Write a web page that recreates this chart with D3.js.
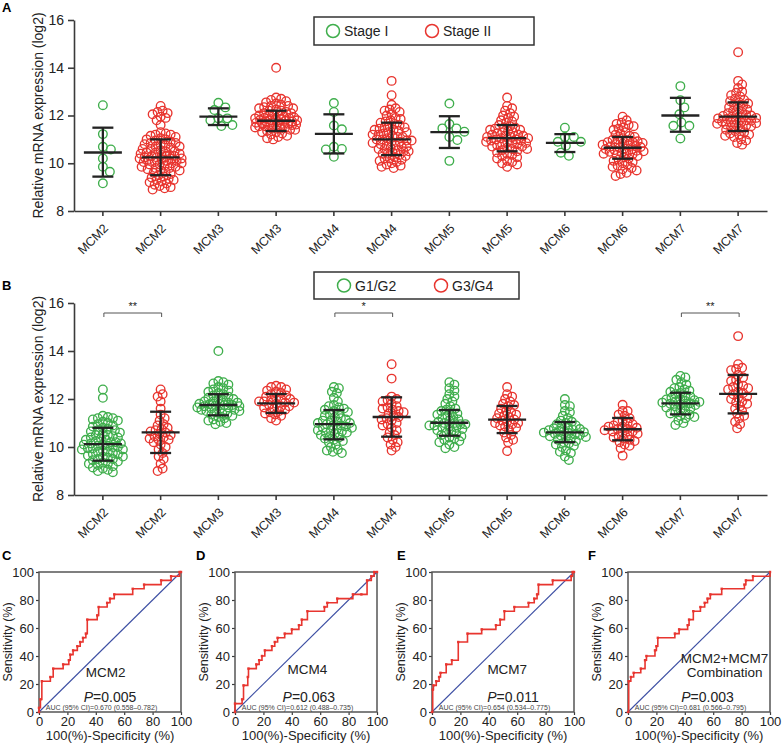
<!DOCTYPE html>
<html><head><meta charset="utf-8">
<script src="https://cdn.jsdelivr.net/npm/d3@7"></script>
<style>body{margin:0;background:#fff} svg{display:block;font-family:Arial,"Liberation Sans",sans-serif}</style>
</head><body><svg id="c" width="784" height="744"></svg>
<script>
// ---------- Panel A data (Stage I / Stage II) ----------
const catsA = ["MCM2","MCM2","MCM3","MCM3","MCM4","MCM4","MCM5","MCM5","MCM6","MCM6","MCM7","MCM7"];
const a_mcm2_s1 = [12.43,11.22,10.69,10.58,10.2,9.85,9.64,9.16];
const a_mcm2_s2 = [12.4,12.2,12.15,12.1,12.05,11.95,11.9,11.8,11.6,11.3,11.25,11.2,11.2,11.15,11.1,11.05,11.0,11.0,10.95,10.9,10.85,10.85,10.8,10.8,10.75,10.7,10.7,10.65,10.6,10.6,10.55,10.5,10.5,10.45,10.45,10.4,10.4,10.35,10.35,10.3,10.3,10.3,10.25,10.25,10.2,10.2,10.2,10.15,10.15,10.1,10.1,10.05,10.05,10.0,10.0,9.95,9.95,9.9,9.85,9.85,9.8,9.8,9.75,9.7,9.7,9.65,9.6,9.55,9.5,9.45,9.4,9.35,9.3,9.3,9.25,9.2,9.15,9.1,9.05,9.0,8.95,8.9];
const a_mcm3_s1 = [12.53,12.34,12.23,11.88,11.88,11.8,11.6,11.56];
const a_mcm3_s2 = [14.0,12.75,12.7,12.65,12.6,12.55,12.5,12.45,12.4,12.4,12.35,12.3,12.3,12.25,12.2,12.2,12.15,12.1,12.1,12.05,12.0,12.0,11.98,11.95,11.92,11.9,11.9,11.88,11.85,11.85,11.82,11.8,11.8,11.78,11.75,11.75,11.72,11.7,11.7,11.68,11.65,11.65,11.62,11.6,11.6,11.58,11.55,11.55,11.5,11.5,11.45,11.45,11.4,11.4,11.35,11.3,11.3,11.25,11.2,11.15,11.1,11.05,11.0];
const a_mcm4_s1 = [12.52,12.15,11.58,11.42,10.69,10.6,10.58,10.27];
const a_mcm4_s2 = [13.45,12.85,12.45,12.3,12.25,12.2,12.15,12.05,12.0,11.9,11.85,11.8,11.75,11.7,11.65,11.6,11.55,11.5,11.5,11.45,11.4,11.4,11.35,11.3,11.3,11.25,11.2,11.2,11.15,11.1,11.1,11.05,11.0,11.0,10.95,10.95,10.9,10.9,10.85,10.8,10.8,10.75,10.7,10.7,10.65,10.6,10.6,10.55,10.5,10.5,10.45,10.4,10.4,10.35,10.3,10.25,10.2,10.2,10.15,10.1,10.05,10.0,9.95,9.9,9.85,9.8];
const a_mcm5_s1 = [12.5,11.64,11.46,11.46,11.32,11.1,10.97,10.1];
const a_mcm5_s2 = [12.75,12.4,12.3,12.2,12.1,12.0,11.95,11.9,11.8,11.75,11.7,11.6,11.55,11.5,11.5,11.45,11.4,11.4,11.35,11.3,11.3,11.25,11.2,11.2,11.15,11.15,11.1,11.1,11.05,11.05,11.0,11.0,10.95,10.95,10.9,10.9,10.85,10.85,10.8,10.8,10.75,10.7,10.7,10.65,10.6,10.6,10.55,10.5,10.45,10.4,10.35,10.3,10.25,10.2,10.1,10.05,10.0,9.95,9.85];
const a_mcm6_s1 = [11.49,11.1,11.1,10.9,10.9,10.73,10.44,10.31];
const a_mcm6_s2 = [11.95,11.8,11.7,11.65,11.6,11.55,11.5,11.45,11.4,11.3,11.25,11.2,11.15,11.1,11.05,11.0,10.98,10.95,10.92,10.9,10.88,10.85,10.82,10.8,10.78,10.75,10.72,10.7,10.68,10.65,10.62,10.6,10.58,10.55,10.52,10.5,10.48,10.45,10.42,10.4,10.38,10.35,10.3,10.25,10.2,10.15,10.1,10.05,10.0,9.95,9.9,9.85,9.8,9.75,9.7,9.6,9.55,9.47];
const a_mcm7_s1 = [13.23,12.64,12.34,12.05,11.71,11.57,11.57,11.04];
const a_mcm7_s2 = [14.65,13.45,13.3,13.15,13.0,12.95,12.85,12.8,12.7,12.65,12.6,12.55,12.5,12.45,12.4,12.35,12.3,12.25,12.2,12.15,12.1,12.05,12.02,12.0,11.98,11.95,11.92,11.9,11.88,11.85,11.82,11.8,11.78,11.75,11.72,11.7,11.68,11.65,11.62,11.6,11.58,11.55,11.5,11.45,11.4,11.35,11.3,11.25,11.2,11.2,11.15,11.1,11.0,10.95,10.85,10.78];
const meanA = [10.45,10.25,11.95,11.78,11.23,11.0,11.3,11.05,10.85,10.65,12.0,11.95];
const loA   = [9.44,9.5,11.6,11.35,10.41,10.34,10.64,10.5,10.47,10.19,11.32,11.35];
const hiA   = [11.49,11.0,12.3,12.2,12.05,11.7,11.97,11.6,11.22,11.1,12.74,12.55];
const legendA = ["Stage I","Stage II"];

// ---------- Panel B data (G1/G2 / G3/G4) ----------
const catsB = ["MCM2","MCM2","MCM3","MCM3","MCM4","MCM4","MCM5","MCM5","MCM6","MCM6","MCM7","MCM7"];
const b_mcm2_g12 = [12.4,12.05,11.3,11.25,11.2,11.2,11.15,11.1,11.05,11.0,10.95,10.9,10.85,10.8,10.75,10.7,10.7,10.65,10.6,10.55,10.5,10.5,10.45,10.4,10.4,10.35,10.3,10.3,10.25,10.2,10.2,10.15,10.15,10.1,10.1,10.05,10.05,10.0,10.0,9.95,9.95,9.9,9.9,9.85,9.8,9.8,9.75,9.7,9.7,9.65,9.6,9.6,9.55,9.5,9.5,9.45,9.4,9.35,9.3,9.3,9.25,9.2,9.15,9.1,9.05,9.0,8.95];
const b_mcm2_g34 = [12.4,12.2,12.1,11.9,11.6,11.35,11.2,11.1,10.95,10.9,10.8,10.75,10.7,10.65,10.6,10.55,10.5,10.45,10.4,10.35,10.3,10.3,10.2,10.1,10.0,9.9,9.75,9.6,9.5,9.3,9.1,9.0];
const b_mcm3_g12 = [14.0,12.75,12.7,12.65,12.6,12.5,12.45,12.4,12.35,12.3,12.25,12.2,12.15,12.1,12.05,12.0,12.0,11.95,11.9,11.9,11.85,11.85,11.8,11.8,11.78,11.75,11.75,11.72,11.7,11.7,11.65,11.65,11.6,11.6,11.55,11.55,11.5,11.5,11.45,11.4,11.4,11.35,11.3,11.25,11.2,11.15,11.1,11.05,11.0,10.95];
const b_mcm3_g34 = [12.55,12.5,12.5,12.4,12.35,12.3,12.25,12.2,12.15,12.1,12.05,12.0,12.0,11.95,11.9,11.9,11.85,11.85,11.8,11.75,11.7,11.7,11.65,11.6,11.55,11.5,11.45,11.4,11.35,11.3,11.2,11.1];
const b_mcm4_g12 = [12.5,12.45,12.3,12.25,12.05,11.9,11.75,11.7,11.65,11.6,11.55,11.5,11.45,11.4,11.35,11.3,11.25,11.2,11.15,11.1,11.1,11.05,11.0,11.0,10.95,10.9,10.9,10.85,10.8,10.8,10.75,10.7,10.7,10.65,10.6,10.6,10.55,10.5,10.45,10.4,10.35,10.3,10.25,10.2,10.1,10.0,9.9,9.85,9.8,9.75];
const b_mcm4_g34 = [13.45,12.85,12.1,12.0,11.95,11.9,11.8,11.7,11.65,11.6,11.55,11.5,11.45,11.4,11.3,11.25,11.2,11.15,11.1,11.0,10.95,10.9,10.8,10.7,10.6,10.5,10.4,10.3,10.2,10.1,10.0,9.85];
const b_mcm5_g12 = [12.7,12.6,12.45,12.35,12.2,12.1,12.0,11.9,11.8,11.7,11.6,11.55,11.5,11.45,11.4,11.35,11.3,11.25,11.2,11.15,11.1,11.05,11.0,11.0,10.95,10.95,10.9,10.9,10.85,10.8,10.8,10.75,10.7,10.65,10.6,10.55,10.5,10.45,10.4,10.35,10.3,10.25,10.2,10.1,10.0,9.95];
const b_mcm5_g34 = [12.5,12.2,12.1,12.0,11.9,11.8,11.75,11.7,11.6,11.5,11.45,11.4,11.35,11.3,11.25,11.2,11.15,11.1,11.05,11.0,11.0,10.95,10.9,10.85,10.8,10.7,10.6,10.5,10.4,10.3,10.2,9.83];
const b_mcm6_g12 = [12.0,11.75,11.7,11.5,11.45,11.3,11.2,11.1,11.05,11.0,10.95,10.9,10.85,10.8,10.78,10.75,10.72,10.7,10.68,10.65,10.62,10.6,10.58,10.55,10.52,10.5,10.48,10.45,10.42,10.4,10.35,10.3,10.25,10.2,10.15,10.1,10.05,10.0,9.85,9.8,9.75,9.6,9.46];
const b_mcm6_g34 = [11.76,11.5,11.5,11.35,11.3,11.2,11.1,11.05,11.0,10.95,10.9,10.85,10.85,10.8,10.75,10.75,10.7,10.65,10.65,10.6,10.55,10.5,10.45,10.4,10.35,10.3,10.25,10.2,10.1,10.05,9.95,9.64];
const b_mcm7_g12 = [12.96,12.9,12.8,12.7,12.6,12.5,12.45,12.4,12.35,12.3,12.25,12.2,12.15,12.1,12.05,12.0,11.98,11.95,11.92,11.9,11.88,11.85,11.82,11.8,11.78,11.75,11.72,11.7,11.65,11.6,11.55,11.5,11.45,11.4,11.35,11.3,11.25,11.2,11.1,11.0,10.92];
const b_mcm7_g34 = [14.62,13.45,13.3,13.25,13.2,13.0,12.9,12.8,12.75,12.6,12.55,12.5,12.45,12.4,12.3,12.25,12.2,12.1,12.05,12.0,11.9,11.85,11.8,11.7,11.6,11.5,11.4,11.3,11.2,11.05,10.95,10.78];
const meanB = [10.12,10.61,11.75,11.82,10.95,11.25,11.01,11.14,10.61,10.74,11.82,12.21];
const loB   = [9.43,9.75,11.32,11.42,10.32,10.43,10.47,10.58,10.2,10.28,11.36,11.4];
const hiB   = [10.8,11.47,12.2,12.21,11.54,12.07,11.54,11.71,11.04,11.21,12.26,13.0];
const legendB = ["G1/G2","G3/G4"];
const sigPairsB = [0,4,10];          // left index of each bracket
const sigLabelsB = ["**","*","**"];

// ---------- ROC data (corners: 100-specificity %, sensitivity %) ----------
const rocC_x = [0,0,1,2,8,10,17,21,22,24,27,29,31,33,34,41,42,48,50,53,66,74,86,93,99,100];
const rocC_y = [0,3,9,22,25,31,34,37,41,44,47,50,53,56,66,69,75,78,81,84,88,91,94,97,100,100];
const rocD_x = [0,0,5,6,9,9.5,15,17,19,21,26,28,30,35,40,45,47,51,63,65,72,83,89,93,96,98,100];
const rocD_y = [0,6,9,19,25,31,34,37,40,44,47,50,53,56,59,62,66,72,75,78,81,84,84,94,97,100,100];
const rocE_x = [0,0.5,1,3,5,6,10,14,18.5,25,35,45,48,51,58,68,72,74,75,85,98,99,100];
const rocE_y = [0,16,19,22,25,28,34,37,50,56,59,62,66,72,75,78,81,84,91,94,97,100,100];
const rocF_x = [0,0.5,2,4,9,12,13,19,20,21,33,36,42,43,46,51,54,56,58,66,82,83,88,100];
const rocF_y = [0,22,25,28,31,37,40,44,47,53,56,59,62,66,72,75,78,81,84,88,91,94,97,100];

const GREEN = "#3fae4c", RED = "#e8352f", DARK = "#232323", AXIS = "#3a3a3a", BLUE = "#3d4fa3";
const svg = d3.select("#c");

function swarm(ys, r, maxW, minD) {
  const order = d3.range(ys.length).sort((a, b) => ys[a] - ys[b]);
  const placed = [], xs = new Array(ys.length);
  for (const i of order) {
    let best = 0, bestScore = -Infinity, done = false;
    for (let k = 0; k <= maxW && !done; k += 1) {
      for (const s of (k === 0 ? [0] : [k, -k])) {
        let md = Infinity;
        for (const p of placed) { const d = Math.hypot(p.x - s, p.y - ys[i]); if (d < md) md = d; }
        if (md >= minD) { best = s; done = true; break; }
        if (md > bestScore) { bestScore = md; best = s; }
      }
    }
    xs[i] = best; placed.push({ x: best, y: ys[i] });
  }
  return xs;
}

function scatterPanel(o) {
  const g = svg.append("g");
  const x = d3.scaleBand().domain(d3.range(o.cats.length)).range([74, 767]);
  const cx = i => x(i) + x.bandwidth() / 2;
  const y = d3.scaleLinear().domain([8, 16]).range([o.yBottom, o.yTop]);

  const ya = g.append("g").attr("transform", "translate(74,0)")
    .call(d3.axisLeft(y).tickValues([8, 10, 12, 14, 16]).tickSize(6).tickPadding(4).tickSizeOuter(0));
  ya.selectAll("text").attr("font-size", 14).attr("fill", "#222");
  const xa = g.append("g").attr("transform", `translate(0,${o.yBottom})`)
    .call(d3.axisBottom(x).tickSize(5).tickSizeOuter(0).tickFormat(i => o.cats[i]));
  xa.selectAll(".tick").attr("transform", d => `translate(${cx(d)},0)`);
  xa.selectAll("text").attr("font-size", 12.5).attr("fill", "#222").attr("text-anchor", "end")
    .attr("y", 0).attr("dy", "0.35em").attr("transform", "translate(3,15) rotate(-45)");
  [ya, xa].forEach(a => { a.selectAll("path,line").attr("stroke", AXIS).attr("stroke-width", 1.6); });

  g.append("text").attr("transform", `translate(43,${(o.yTop + o.yBottom) / 2}) rotate(-90)`)
    .attr("text-anchor", "middle").attr("font-size", 14).attr("fill", "#222")
    .text("Relative mRNA expression (log2)");
  g.append("text").attr("x", 2).attr("y", o.letterY).attr("font-size", 13).attr("font-weight", "bold").text(o.letter);

  o.groups.forEach((vals, i) => {
    const ys = vals.map(v => y(v));
    const dense = vals.length > 20;
    const xs = swarm(ys, 4.2, 21, dense ? 5.0 : 8.2);
    g.append("g").selectAll("circle").data(vals).join("circle")
      .attr("cx", (d, j) => cx(i) + xs[j]).attr("cy", d => y(d)).attr("r", 4.3)
      .attr("fill", "none").attr("stroke", i % 2 === 0 ? GREEN : RED).attr("stroke-width", 1.35);
  });
  const eb = g.append("g").attr("stroke", DARK).attr("stroke-width", 2.3);
  o.cats.forEach((c, i) => {
    eb.append("line").attr("x1", cx(i) - 19).attr("x2", cx(i) + 19).attr("y1", y(o.mean[i])).attr("y2", y(o.mean[i]));
    eb.append("line").attr("x1", cx(i)).attr("x2", cx(i)).attr("y1", y(o.lo[i])).attr("y2", y(o.hi[i]));
    eb.append("line").attr("x1", cx(i) - 10.5).attr("x2", cx(i) + 10.5).attr("y1", y(o.lo[i])).attr("y2", y(o.lo[i]));
    eb.append("line").attr("x1", cx(i) - 10.5).attr("x2", cx(i) + 10.5).attr("y1", y(o.hi[i])).attr("y2", y(o.hi[i]));
  });

  const L = o.legend;
  g.append("rect").attr("x", L.x).attr("y", L.y).attr("width", L.w).attr("height", L.h)
    .attr("fill", "#fff").attr("stroke", "#333").attr("stroke-width", 1.5);
  [[GREEN, L.c1, o.legendText[0]], [RED, L.c2, o.legendText[1]]].forEach(([col, px, t]) => {
    g.append("circle").attr("cx", px).attr("cy", L.y + L.h / 2).attr("r", 6.5)
      .attr("fill", "none").attr("stroke", col).attr("stroke-width", 1.5);
    g.append("text").attr("x", px + 11).attr("y", L.y + L.h / 2 + 5).attr("font-size", 14).attr("fill", "#222").text(t);
  });

  if (o.sig) {
    o.sig.pairs.forEach((i, k) => {
      const by = o.sig.y, x1 = cx(i) + 1, x2 = cx(i + 1) + 1;
      g.append("path").attr("d", `M${x1},${by + 4}V${by}H${x2}V${by + 4}`)
        .attr("fill", "none").attr("stroke", "#555").attr("stroke-width", 1);
      g.append("text").attr("x", (x1 + x2) / 2).attr("y", by - 3).attr("text-anchor", "middle")
        .attr("font-size", 11).attr("fill", "#222").text(o.sig.labels[k]);
    });
  }
}

scatterPanel({
  cats: catsA, yTop: 20, yBottom: 211, letter: "A", letterY: 12,
  groups: [a_mcm2_s1, a_mcm2_s2, a_mcm3_s1, a_mcm3_s2, a_mcm4_s1, a_mcm4_s2, a_mcm5_s1, a_mcm5_s2, a_mcm6_s1, a_mcm6_s2, a_mcm7_s1, a_mcm7_s2],
  mean: meanA, lo: loA, hi: hiA, legendText: legendA,
  legend: { x: 314, y: 17, w: 220, h: 28, c1: 333, c2: 432 }
});
scatterPanel({
  cats: catsB, yTop: 303, yBottom: 495, letter: "B", letterY: 290,
  groups: [b_mcm2_g12, b_mcm2_g34, b_mcm3_g12, b_mcm3_g34, b_mcm4_g12, b_mcm4_g34, b_mcm5_g12, b_mcm5_g34, b_mcm6_g12, b_mcm6_g34, b_mcm7_g12, b_mcm7_g34],
  mean: meanB, lo: loB, hi: hiB, legendText: legendB,
  legend: { x: 314, y: 272, w: 205, h: 27, c1: 344, c2: 441 },
  sig: { pairs: sigPairsB, labels: sigLabelsB, y: 313 }
});

function rocPanel(o) {
  const g = svg.append("g");
  const w = 142, h = 140, top = 572;
  const x = d3.scaleLinear().domain([0, 100]).range([o.left, o.left + w]);
  const y = d3.scaleLinear().domain([0, 100]).range([top + h, top]);
  const ticks = [0, 20, 40, 60, 80, 100];
  const ya = g.append("g").attr("transform", `translate(${o.left},0)`)
    .call(d3.axisLeft(y).tickValues(ticks).tickSize(3).tickPadding(2));
  const xa = g.append("g").attr("transform", `translate(0,${top + h})`)
    .call(d3.axisBottom(x).tickValues(ticks).tickSize(3).tickPadding(2));
  [ya, xa].forEach(a => {
    a.select(".domain").remove();
    a.selectAll("line").attr("stroke", AXIS).attr("stroke-width", 1.2);
    a.selectAll("text").attr("font-size", 13).attr("fill", "#222");
  });
  g.append("rect").attr("x", o.left).attr("y", top).attr("width", w).attr("height", h)
    .attr("fill", "none").attr("stroke", "#555").attr("stroke-width", 1.5);
  g.append("line").attr("x1", x(0)).attr("y1", y(0)).attr("x2", x(100)).attr("y2", y(100))
    .attr("stroke", BLUE).attr("stroke-width", 1.1);
  const pts = o.xs.map((v, i) => [v, o.ys[i]]);
  g.append("path").datum(pts)
    .attr("d", d3.line().x(d => x(d[0])).y(d => y(d[1])).curve(d3.curveStepAfter))
    .attr("fill", "none").attr("stroke", RED).attr("stroke-width", 1.6);
  g.append("g").selectAll("rect").data(pts).join("rect")
    .attr("x", d => x(d[0]) - 1.2).attr("y", d => y(d[1]) - 1.2).attr("width", 2.4).attr("height", 2.4).attr("fill", RED);

  g.append("text").attr("transform", `translate(${o.left - 27},${top + h / 2}) rotate(-90)`)
    .attr("text-anchor", "middle").attr("font-size", 12.5).attr("fill", "#222").text("Sensitivity (%)");
  g.append("text").attr("x", o.left + w / 2).attr("y", 740).attr("text-anchor", "middle")
    .attr("font-size", 13).attr("fill", "#222").text("100(%)-Specificity (%)");
  g.append("text").attr("x", o.letterX).attr("y", 560).attr("font-size", 13).attr("font-weight", "bold").text(o.letter);

  o.label.forEach((t, k) => {
    g.append("text").attr("x", x(o.labelPos[0])).attr("y", y(o.labelPos[1]) + k * 14)
      .attr("text-anchor", o.labelAnchor).attr("font-size", 13.5).attr("fill", "#222").text(t);
  });
  const p = g.append("text").attr("x", x(o.pPos)).attr("y", top + h - 10).attr("text-anchor", "middle")
    .attr("font-size", 14).attr("fill", "#222");
  p.append("tspan").attr("font-style", "italic").text("P");
  p.append("tspan").text("=" + o.p);
  g.append("text").attr("x", x(44)).attr("y", top + h - 2).attr("text-anchor", "middle")
    .attr("font-size", 7).attr("fill", "#444").text(o.auc);
}

rocPanel({ left: 39, letter: "C", letterX: 2, xs: rocC_x, ys: rocC_y, label: ["MCM2"], labelPos: [33, 25], labelAnchor: "start",
  p: "0.005", pPos: 50, auc: "AUC (95% CI)=0.670 (0.558–0.782)" });
rocPanel({ left: 235, letter: "D", letterX: 196, xs: rocD_x, ys: rocD_y, label: ["MCM4"], labelPos: [37, 27], labelAnchor: "start",
  p: "0.063", pPos: 52, auc: "AUC (95% CI)=0.612 (0.488–0.735)" });
rocPanel({ left: 432, letter: "E", letterX: 397, xs: rocE_x, ys: rocE_y, label: ["MCM7"], labelPos: [39, 27], labelAnchor: "start",
  p: "0.011", pPos: 57, auc: "AUC (95% CI)=0.654 (0.534–0.775)" });
rocPanel({ left: 628, letter: "F", letterX: 588, xs: rocF_x, ys: rocF_y, label: ["MCM2+MCM7", "Combination"], labelPos: [68, 35], labelAnchor: "middle",
  p: "0.003", pPos: 56, auc: "AUC (95% CI)=0.681 (0.566–0.795)" });
</script></body></html>
